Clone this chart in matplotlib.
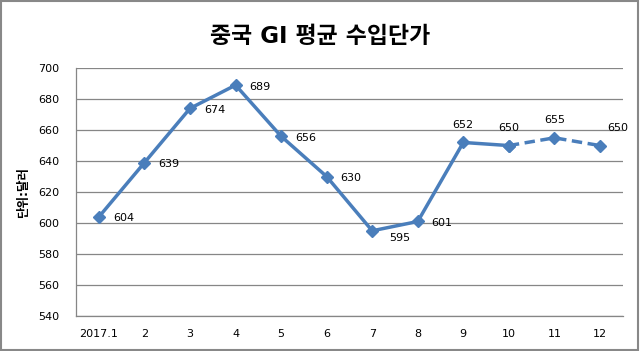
import matplotlib
matplotlib.use("Agg")
import matplotlib.pyplot as plt
from matplotlib.patches import Rectangle

plt.rcParams['font.family'] = ['DejaVu Sans', 'Noto Sans CJK KR']

# data
months = ['2017.1', '2', '3', '4', '5', '6', '7', '8', '9', '10', '11', '12']
prices = [604, 639, 674, 689, 656, 630, 595, 601, 652, 650, 655, 650]
solid_upto = 10  # first 10 points solid, rest dashed

line_color = '#4A7EBB'
grid_color = '#868686'

fig = plt.figure(figsize=(6.4, 3.51), dpi=100)
ax = fig.add_axes([0.119, 0.0997, 0.854, 0.7063])

x = list(range(len(months)))
ax.plot(x[:solid_upto], prices[:solid_upto], color=line_color, lw=2.5,
        marker='D', ms=6, zorder=3)
ax.plot(x[solid_upto - 1:], prices[solid_upto - 1:], color=line_color, lw=2.5,
        ls=(0, (3, 1.6)), marker='D', ms=6, zorder=3)

# value labels
for i, v in enumerate(prices):
    if i >= 8:
        dx, dy, ha = (5, 9, 'left') if i == 11 else (0, 9, 'center')
        va = 'bottom'
    elif i == 6:
        dx, dy, ha, va = (12, -5, 'left', 'center')
    else:
        dx, dy, ha, va = (10, -1, 'left', 'center')
    ax.annotate(str(v), (i, v), xytext=(dx, dy), textcoords='offset points',
                ha=ha, va=va, fontsize=8, color='black')

ax.set_xlim(-0.5, len(months) - 0.5)
ax.set_ylim(540, 700)
ax.set_yticks(range(540, 701, 20))
ax.set_xticks(x)
ax.set_xticklabels(months)
ax.tick_params(length=0, labelsize=8, pad=9)
ax.tick_params(axis='y', pad=12)
ax.yaxis.grid(True, color=grid_color, lw=0.9)
ax.set_axisbelow(True)
for s in ['top', 'right']:
    ax.spines[s].set_visible(False)
for s in ['left', 'bottom']:
    ax.spines[s].set_color(grid_color)
    ax.spines[s].set_linewidth(0.9)

ax.set_ylabel('단위:달러', fontsize=9, fontweight='bold', labelpad=6)

fig.text(0.5, 0.895, '중국 GI 평균 수입단가', ha='center', va='center',
         fontsize=16.5, fontweight='bold')

fig.patches.append(Rectangle((0.002, 0.003), 0.995, 0.994, transform=fig.transFigure,
                             fill=False, edgecolor='#888888', lw=1.5))

fig.savefig('out.png', dpi=100)
